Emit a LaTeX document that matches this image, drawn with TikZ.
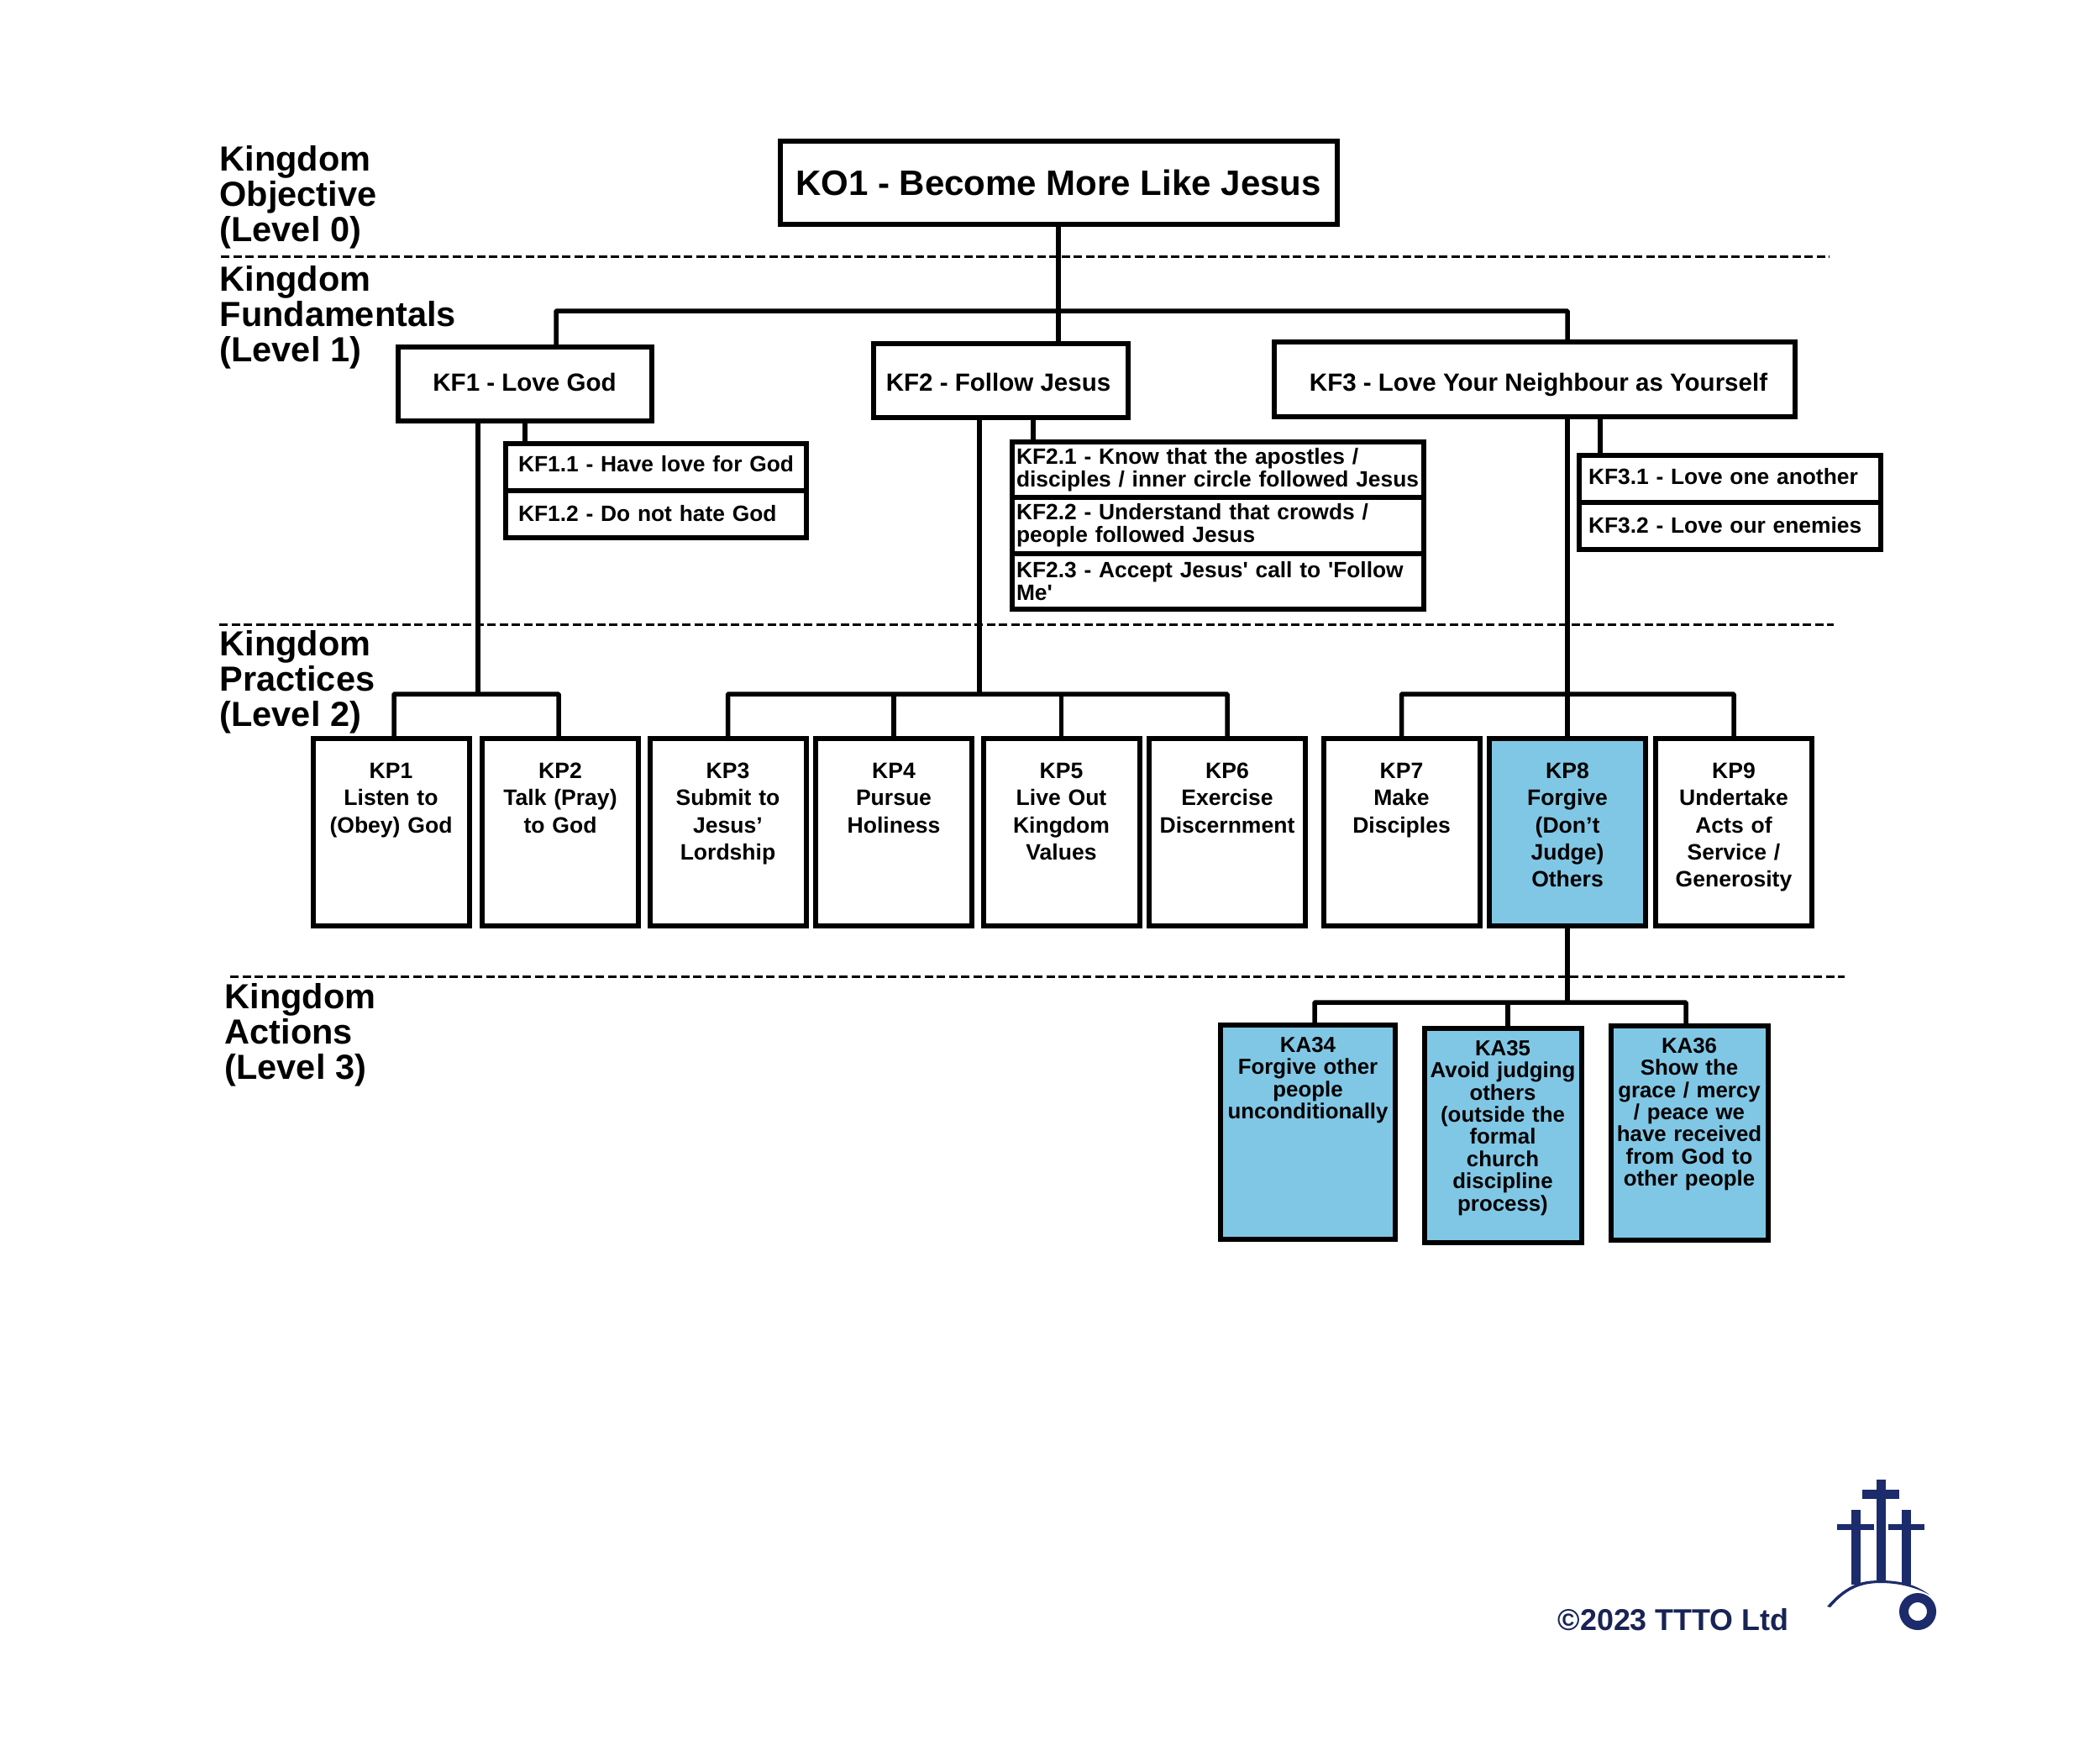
\documentclass[tikz,border=0pt]{standalone}
\usepackage{fontspec}
\setmainfont{Liberation Sans}[Ligatures=TeXOff]
\usepackage{xcolor}
\usepackage{tikz}
\usetikzlibrary{positioning,calc}
\definecolor{kpblue}{rgb}{0.50,0.78,0.90}
\definecolor{logonavy}{rgb}{0.11,0.17,0.42}
\definecolor{copynavy}{rgb}{0.10,0.14,0.33}

\begin{document}
\begin{tikzpicture}[
   box/.style={draw,line width=.06cm,inner sep=0pt,outer sep=0pt,align=center,
               font=\bfseries\fontsize{8.4pt}{9.6pt}\selectfont},
   subbox/.style={box,align=left,minimum height=.56cm,text height=.195cm,text depth=.085cm,
               execute at begin node={\leftskip=#1},
               font=\bfseries\fontsize{7.5pt}{7.7pt}\selectfont},
   stepbox/.style={box,align=left,text width=4.90cm,minimum height=.665cm,
               execute at begin node={\leftskip=.055cm},
               font=\bfseries\fontsize{7.5pt}{7.7pt}\selectfont},
   kpbox/.style={box,text width=1.86cm,text height=.48cm,text depth=1.75cm,
               font=\bfseries\fontsize{7.55pt}{9.2pt}\selectfont},
   kabox/.style={box,fill=kpblue,text height=.33cm,text depth=2.22cm,
               font=\bfseries\fontsize{7.35pt}{7.5pt}\selectfont},
   level/.style={anchor=north west,inner sep=0pt,align=left,
               font=\bfseries\fontsize{11.8pt}{11.85pt}\selectfont},
   link/.style={line width=.055cm,rounded corners=.3pt},
   divider/.style={line width=.03cm,dash pattern=on .1cm off .045cm}]
  \useasboundingbox (0,0) rectangle (25,-20.83);

  \node[level] (l0) at (2.61,-1.73) {Kingdom\\Objective\\(Level 0)};
  \node[level] (l1) at (2.61,-3.16) {Kingdom\\Fundamentals\\(Level 1)};
  \node[level] (l2) at (2.61,-7.50) {Kingdom\\Practices\\(Level 2)};
  \node[level] (l3) at (2.67,-11.70) {Kingdom\\Actions\\(Level 3)};

  \coordinate (d0l) at (2.63,-3.05);
  \coordinate (d0r) at (21.78,-3.05);
  \coordinate (d1l) at (2.61,-7.43);
  \coordinate (d1r) at (21.83,-7.43);
  \coordinate (d2l) at (2.74,-11.62);
  \coordinate (d2r) at (21.96,-11.62);
  \draw[divider] (d0l) -- (d0r);
  \draw[divider] (d1l) -- (d1r);
  \draw[divider] (d2l) -- (d2r);

  \node[box,minimum width=6.63cm,minimum height=.99cm,
        font=\bfseries\fontsize{11.95pt}{13pt}\selectfont] (ko1) at (12.60,-2.17)
       {KO1 - Become More Like Jesus};
  \node[box,minimum width=3.02cm,minimum height=.88cm,text height=.25cm,text depth=.08cm] (kf1)
       at (6.245,-4.565) {KF1 - Love God};
  \node[box,minimum width=3.03cm,minimum height=.88cm,text height=.30cm,text depth=.06cm] (kf2)
       at (11.91,-4.53) {KF2 - Follow Jesus\hspace*{.05cm}};
  \node[box,minimum width=6.20cm,minimum height=.89cm,text height=.32cm,text depth=.04cm] (kf3)
       at (18.265,-4.51) {\hspace*{.1cm}KF3 - Love Your Neighbour as Yourself};

  \node[subbox=.155cm,anchor=north west,text width=3.58cm] (kf11) at (6.015,-5.275)
       {KF1.1 - Have love for God};
  \node[subbox=.155cm,below=0pt of kf11,text width=3.58cm,text height=.225cm,text depth=.055cm] (kf12)
       {KF1.2 - Do not hate God};
  \node[stepbox,anchor=north west] (kf21) at (12.045,-5.255)
       {KF2.1 - Know that the apostles /\\disciples / inner circle followed Jesus};
  \node[stepbox,below=0pt of kf21] (kf22)
       {KF2.2 - Understand that crowds /\\people followed Jesus};
  \node[stepbox,below=0pt of kf22] (kf23)
       {KF2.3 - Accept Jesus' call to 'Follow\\Me'};
  \node[subbox=.115cm,anchor=north west,text width=3.59cm,text height=.21cm,text depth=.07cm] (kf31)
       at (18.795,-5.415) {KF3.1 - Love one another};
  \node[subbox=.115cm,below=0pt of kf31,text width=3.59cm,text height=.225cm,text depth=.055cm] (kf32)
       {KF3.2 - Love our enemies};

  \node[kpbox] (kp1) at (4.655,-9.90) {KP1\\Listen to\\(Obey) God};
  \node[kpbox] (kp2) at (6.67,-9.90) {KP2\\Talk (Pray)\\to God};
  \node[kpbox] (kp3) at (8.665,-9.90) {KP3\\Submit to\\Jesus’\\Lordship};
  \node[kpbox] (kp4) at (10.64,-9.90) {KP4\\Pursue\\Holiness};
  \node[kpbox] (kp5) at (12.635,-9.90) {KP5\\Live Out\\Kingdom\\Values};
  \node[kpbox] (kp6) at (14.61,-9.90) {KP6\\Exercise\\Discernment};
  \node[kpbox] (kp7) at (16.685,-9.90) {KP7\\Make\\Disciples};
  \node[kpbox,fill=kpblue] (kp8) at (18.66,-9.90) {KP8\\Forgive\\(Don’t\\Judge)\\Others};
  \node[kpbox] (kp9) at (20.64,-9.90) {KP9\\Undertake\\Acts of\\Service /\\Generosity};

  \node[kabox,text width=2.08cm] (ka34) at (15.57,-13.47)
       {KA34\\Forgive other\\people\\unconditionally};
  \node[kabox,text width=1.87cm] (ka35) at (17.89,-13.51)
       {KA35\\Avoid judging\\others\\(outside the\\formal\\church\\discipline\\process)};
  \node[kabox,text width=1.87cm] (ka36) at (20.11,-13.48)
       {KA36\\Show the\\grace / mercy\\/ peace we\\have received\\from God to\\other people};

  \coordinate (jf) at (12.59,-3.70);
  \coordinate (jp1) at (5.69,-8.26);
  \coordinate (jp2) at (11.66,-8.26);
  \coordinate (jp3) at (18.66,-8.26);
  \coordinate (ja) at (18.66,-11.93);

  \draw[link] (ko1.south) -- (ko1.south |- kf2.north);
  \draw[link] ([xshift=.375cm]kf1.north) |- (jf) -| (kp8.north |- kf3.north);
  \draw[link] ([xshift=.235cm]kf11.north west) -- ([xshift=.235cm]kf11.north west |- kf1.south);
  \draw[link] ([xshift=.255cm]kf21.north west) -- ([xshift=.255cm]kf21.north west |- kf2.south);
  \draw[link] ([xshift=.255cm]kf31.north west) -- ([xshift=.255cm]kf31.north west |- kf3.south);

  \draw[link] (jp1 |- kf1.south) -- (jp1);
  \draw[link] ([xshift=.035cm]kp1.north) |- (jp1) -| ([xshift=-.02cm]kp2.north);
  \draw[link] (jp2 |- kf2.south) -- (jp2);
  \draw[link] (kp3.north) |- (jp2) -| (kp6.north);
  \draw[link] (kp4.north) -- (kp4.north |- jp2);
  \draw[link] (kp5.north) -- (kp5.north |- jp2);
  \draw[link] (kp8.north |- kf3.south) -- (kp8.north);
  \draw[link] (kp7.north) |- (jp3) -| (kp9.north);

  \draw[link] (kp8.south) -- (ja);
  \draw[link] ([xshift=.08cm]ka34.north) |- (ja) -| ([xshift=-.04cm]ka36.north);
  \draw[link] ([xshift=.06cm]ka35.north) -- ([xshift=.06cm]ka35.north |- ja);

  \node[anchor=base west,inner sep=0pt,text=copynavy,
        font=\bfseries\fontsize{10.2pt}{12pt}\selectfont] (copy) at (18.54,-19.40) {©2023 TTTO Ltd};

  \fill[logonavy] (22.34,-17.61) rectangle (22.45,-18.83);
  \fill[logonavy] (22.17,-17.73) rectangle (22.61,-17.84);
  \fill[logonavy] (22.04,-17.97) rectangle (22.15,-18.86);
  \fill[logonavy] (21.87,-18.14) rectangle (22.31,-18.21);
  \fill[logonavy] (22.64,-17.97) rectangle (22.75,-18.86);
  \fill[logonavy] (22.48,-18.14) rectangle (22.91,-18.21);
  \fill[logonavy] (21.75,-19.12) .. controls (22.0,-18.83) and (22.2,-18.81) .. (22.39,-18.81)
       .. controls (22.6,-18.81) and (22.8,-18.85) .. (22.97,-18.98)
       .. controls (22.8,-18.89) and (22.6,-18.84) .. (22.39,-18.84)
       .. controls (22.2,-18.84) and (22.0,-18.88) .. (21.79,-19.13) -- cycle;
  \draw[logonavy,line width=.11cm] (22.83,-19.18) circle (.165);
\end{tikzpicture}
\end{document}
